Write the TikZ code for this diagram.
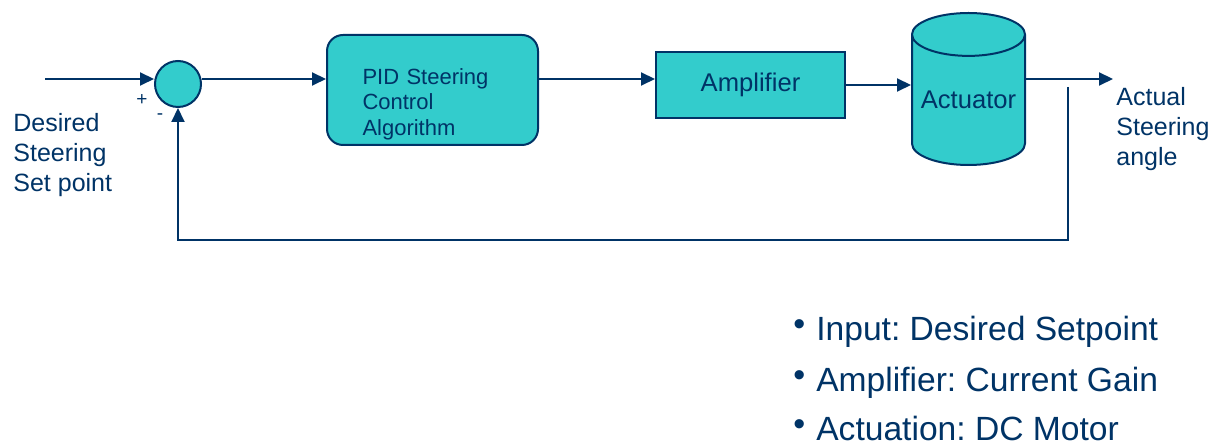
\documentclass[tikz,border=0pt]{standalone}
\usepackage{fontspec}
\setmainfont{Liberation Sans}
\usetikzlibrary{positioning,shapes.geometric,arrows.meta}
\definecolor{navy}{RGB}{0,51,102}
\definecolor{tealfill}{RGB}{51,204,204}
\frenchspacing
\newcommand{\dotmark}{\raisebox{2.5pt}{\fontsize{17}{17}\selectfont •}\hspace{5.5pt}}

\begin{document}
\begin{tikzpicture}[
            x=0.5pt, y=-0.5pt,
            every node/.style={text=navy, inner sep=0pt},
            block/.style={draw=navy, fill=tealfill, line width=1pt},
            line/.style={draw=navy, line width=1pt},
            lbl/.style={font=\fontsize{12.5}{15}\selectfont, align=left},
            bullet/.style={font=\fontsize{16.8}{20}\selectfont, anchor=base west},
            >={Triangle[length=7pt,width=6.5pt]}
        ]
            \useasboundingbox (0,0) rectangle (1226,448);

            % Blocks
            \node[block, circle, minimum size=23pt] (sum) at (178,84) {};
            \node[block, rounded corners=8pt, minimum width=105.5pt, minimum height=55pt,
                  text width=70pt, align=left, font=\fontsize{11}{12.8}\selectfont] (pid) at (432.5,90)
                  {\rule{0pt}{22pt}PID Steering\\Control\\Algorithm};
            \node[block, minimum width=94.5pt, minimum height=33pt,
                  font=\fontsize{12.8}{15}\selectfont] (amp) at (750.5,85) {Amplifier};
            \node[block, cylinder, shape border rotate=90, aspect=0.45, anchor=shape center,
                  minimum height=76pt, minimum width=56.5pt,
                  font=\fontsize{12.8}{15}\selectfont] (act) at (968.5,89) {Actuator};

            % Signals
            \coordinate (in) at (45,79);
            \coordinate (out) at (1113,79);
            \coordinate (fb) at (1068,87);
            \coordinate (fbr) at (1068,240);

            % Labels
            \node[lbl, anchor=north west] (setpt) at (13,113) {Desired\\Steering\\Set point};
            \node[lbl, anchor=north west] (angle) at (1116,87) {Actual\\Steering\\angle};
            \node[font=\fontsize{9.5}{10}\selectfont] (plus) at (142,100) {+};
            \node[font=\fontsize{9.5}{10}\selectfont] (minus) at (160,117) {-};

            % Edges
            \draw[line, ->] (in) -- (in -| sum.west);
            \draw[line, ->] (sum.east |- in) -- (in -| pid.west);
            \draw[line, ->] (pid.east |- in) -- (amp.west |- in);
            \draw[line, ->] (amp.east) -- (amp.east -| act.west);
            \draw[line, ->] (act.east |- out) -- (out);
            \draw[line, ->] (fb) -- (fbr) -| (sum.south);

            % Notes
            \node[bullet] (b1) at (793,341) {\dotmark Input: Desired Setpoint};
            \node[bullet] (b2) at (793,392) {\dotmark Amplifier: Current Gain};
            \node[bullet] (b3) at (793,441) {\dotmark Actuation: DC Motor};
        \end{tikzpicture}
\end{document}
